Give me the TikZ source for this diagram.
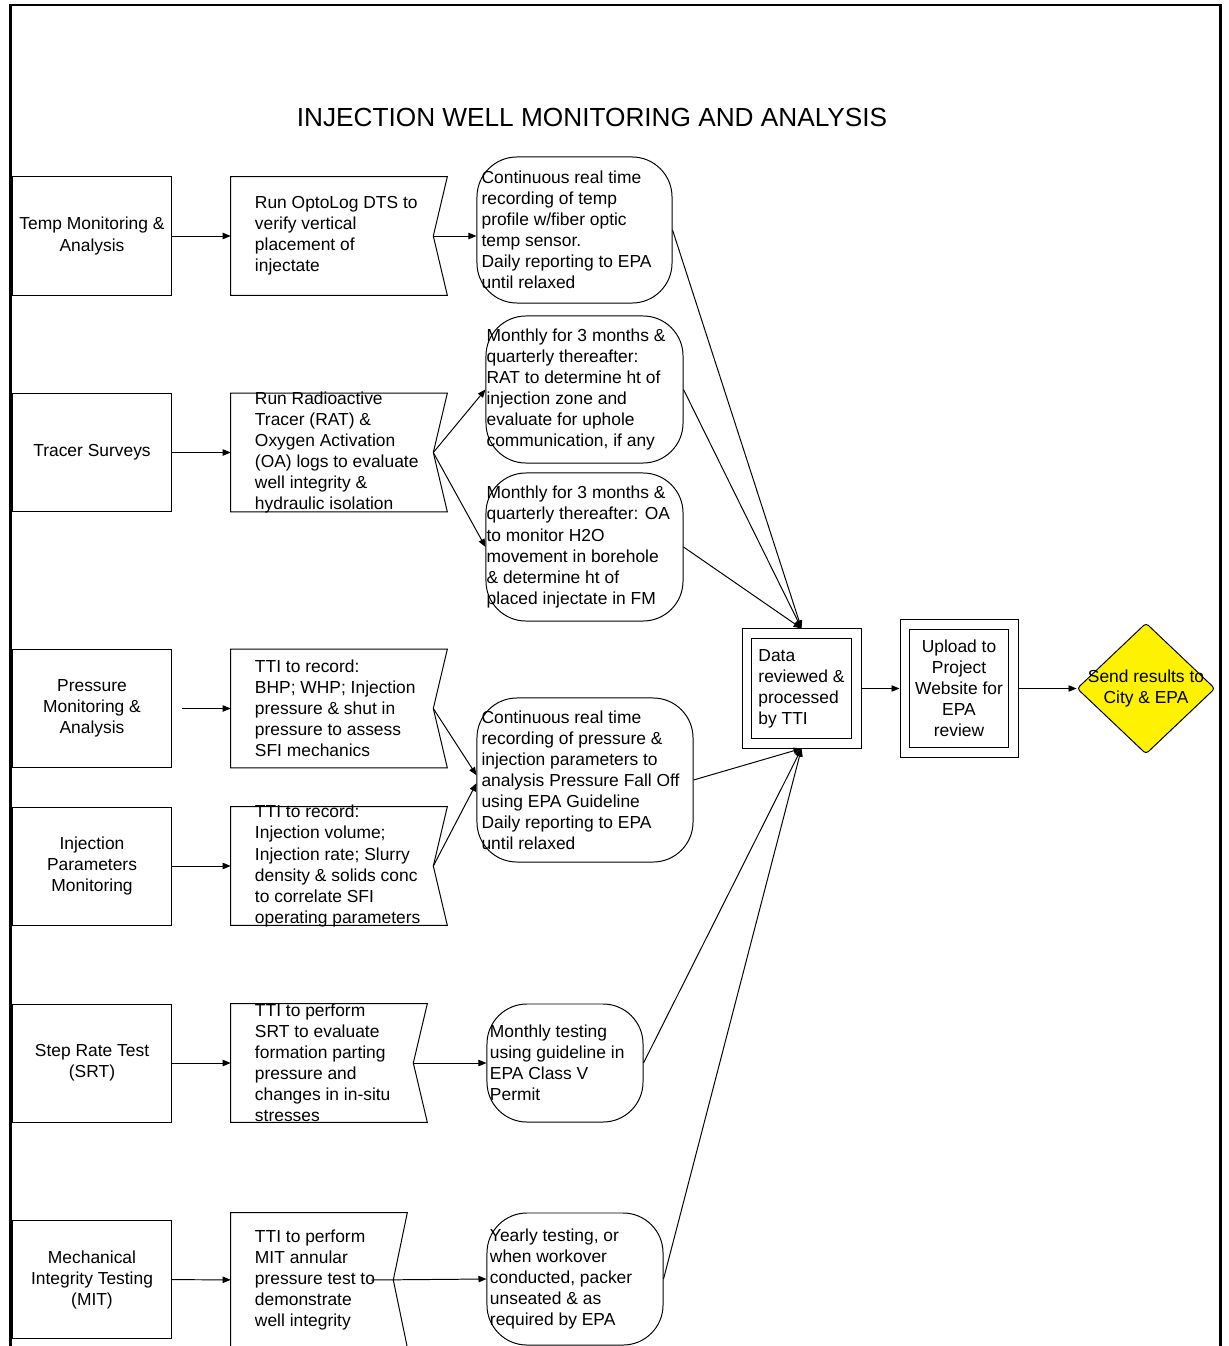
\documentclass[tikz,border=0pt]{standalone}
\usepackage{fontspec}
\setmainfont{Liberation Sans}
\usetikzlibrary{arrows.meta,shapes.geometric}

% notched right side of a process box
\newcommand{\flagline}[1]{%
  \coordinate (#1n) at ([xshift=-0.35cm]#1.east);
  \draw[outline] (#1.north west) -- (#1.north east) -- (#1n)
    -- (#1.south east) -- (#1.south west) -- cycle;}
% second frame inside a box
\newcommand{\innerline}[1]{%
  \draw[outline] ([shift={(0.25cm,-0.25cm)}]#1.north west) rectangle ([shift={(-0.25cm,0.25cm)}]#1.south east);}

\begin{document}
\begin{tikzpicture}[x=0.025cm, y=-0.025cm,
    font=\fontsize{12.38}{14.94}\selectfont,
    outline/.style={draw, line width=0.7pt},
    srcbox/.style={outline, minimum width=3.95cm, minimum height=2.95cm, align=center, inner sep=0pt},
    flagbox/.style={minimum width=5.4cm, minimum height=2.95cm, inner sep=0pt},
    boxtext/.style={anchor=west, align=left, inner sep=0pt},
    roundbox/.style={outline, rounded corners=1cm, inner sep=0pt},
    dblbox/.style={outline, inner sep=0pt},
    decide/.style={diamond, outline, fill=yellow, rounded corners=0.08cm, minimum width=3.45cm, minimum height=3.275cm, inner sep=0pt},
    arr/.style={line width=0.7pt, -{Triangle[length=0.2cm, width=0.16cm]}}
]
    \useasboundingbox (0,0) rectangle (1228,1346);
    \draw[line width=2.1pt] (10.5,1360) |- (1220.5,5) -- (1220.5,1360);

    \node[font=\fontsize{18.64}{22}\selectfont, anchor=base] (title) at (592,126.7) {INJECTION WELL MONITORING AND ANALYSIS};

    % monitoring tasks
    \node[srcbox] (temp) at (92,236) {Temp Monitoring \&\\Analysis};
    \node[srcbox] (tracer) at (92,452.5) {Tracer Surveys};
    \node[srcbox] (press) at (92,708.5) {Pressure\\Monitoring \&\\Analysis};
    \node[srcbox] (inj) at (92,866) {Injection\\Parameters\\Monitoring};
    \node[srcbox] (srt) at (92,1063) {Step Rate Test\\(SRT)};
    \node[srcbox] (mit) at (92,1279.5) {Mechanical\\Integrity Testing\\(MIT)};

    % what is run
    \node[flagbox] (dts) at (339,236) {};
    \node[flagbox] (rat) at (339,452.5) {};
    \node[flagbox] (tti1) at (339,708.5) {};
    \node[flagbox] (tti2) at (339,866) {};
    \node[flagbox, minimum width=4.9cm] (srtrun) at (329,1063) {};
    \node[flagbox, minimum width=4.4cm, minimum height=3.35cm] (mitrun) at (319,1280) {};
    \flagline{dts}
    \flagline{rat}
    \flagline{tti1}
    \flagline{tti2}
    \flagline{srtrun}
    \flagline{mitrun}
    \node[boxtext] (dtstext) at ([xshift=0.6cm]dts.west) {Run OptoLog DTS to\\verify vertical\\placement of\\injectate};
    \node[boxtext] (rattext) at ([xshift=0.6cm]rat.west) {Run Radioactive\\Tracer (RAT) \&\\Oxygen Activation\\(OA) logs to evaluate\\well integrity \&\\hydraulic isolation};
    \node[boxtext] (tti1text) at ([xshift=0.6cm]tti1.west) {TTI to record:\\BHP; WHP; Injection\\pressure \& shut in\\pressure to assess\\SFI mechanics};
    \node[boxtext] (tti2text) at ([xshift=0.6cm]tti2.west) {TTI to record:\\Injection volume;\\Injection rate; Slurry\\density \& solids conc\\to correlate SFI\\operating parameters};
    \node[boxtext] (srtruntext) at ([xshift=0.6cm]srtrun.west) {TTI to perform\\SRT to evaluate\\formation parting\\pressure and\\changes in in-situ\\stresses};
    \node[boxtext] (mitruntext) at ([xshift=0.6cm]mitrun.west) {TTI to perform\\MIT annular\\pressure test to\\demonstrate\\well integrity};

    % recording and reporting
    \node[roundbox, minimum width=4.875cm, minimum height=3.65cm] (cont1) at (574.5,230) {};
    \node[roundbox, minimum width=4.925cm, minimum height=3.675cm] (mon1) at (584.5,389.5) {};
    \node[roundbox, minimum width=4.925cm, minimum height=3.7cm] (mon2) at (584.5,547) {};
    \node[roundbox, minimum width=5.4cm, minimum height=4.1cm] (cont2) at (585,780) {};
    \node[roundbox, minimum width=3.9cm, minimum height=2.95cm] (monthly) at (565,1063) {};
    \node[roundbox, minimum width=4.4cm, minimum height=3.3cm] (yearly) at (575,1279) {};
    \node[boxtext] (cont1text) at ([xshift=0.12cm]cont1.west) {Continuous real time\\recording of temp\\profile w/fiber optic\\temp sensor.\\Daily reporting to EPA\\until relaxed};
    \node[boxtext] (mon1text) at ([xshift=0.02cm]mon1.west) {Monthly for 3 months \&\\quarterly thereafter:\\RAT to determine ht of\\injection zone and\\evaluate for uphole\\communication, if any};
    \node[boxtext] (mon2text) at ([xshift=0.02cm]mon2.west) {Monthly for 3 months \&\\quarterly thereafter: OA\\to monitor H2O\\movement in borehole\\\& determine ht of\\placed injectate in FM};
    \node[boxtext] (cont2text) at ([xshift=0.12cm]cont2.west) {Continuous real time\\recording of pressure \&\\injection parameters to\\analysis Pressure Fall Off\\using EPA Guideline\\Daily reporting to EPA\\until relaxed};
    \node[boxtext] (monthlytext) at ([xshift=0.08cm]monthly.west) {Monthly testing\\using guideline in\\EPA Class V\\Permit};
    \node[boxtext] (yearlytext) at ([xshift=0.08cm]yearly.west) {Yearly testing, or\\when workover\\conducted, packer\\unseated \& as\\required by EPA};

    % review and release
    \node[dblbox, align=left, minimum size=2.975cm] (data) at (801.5,688.5) {Data\\reviewed \&\\processed\\by TTI};
    \node[dblbox, align=center, minimum width=2.95cm, minimum height=3.425cm] (upload) at (959,688.5) {Upload to\\Project\\Website for\\EPA\\review};
    \innerline{data}
    \innerline{upload}
    \node[decide] (send) at (1146,688.5) {};
    \node[align=center, inner sep=0pt] (sendtext) at (send) {Send results to\\City \& EPA};

    \draw[arr] (temp) -- (dts);
    \draw[arr] (dtsn) -- (dtsn -| cont1.west);
    \draw[arr] (tracer) -- (rat);
    \draw[arr] (ratn) -- (mon1.west);
    \draw[arr] (ratn) -- (mon2.west);
    \draw[arr, shorten <=0.25cm] (press) -- (tti1);
    \draw[arr] (inj) -- (tti2);
    \draw[arr] (tti1n) -- ([yshift=0.12cm]cont2.west);
    \draw[arr] (tti2n) -- ([yshift=-0.08cm]cont2.west);
    \draw[arr] (srt) -- (srtrun);
    \draw[arr] (srtrunn) -- (monthly.west);
    \draw[arr] (mit) -- (mitrun);
    \draw[arr] ([xshift=-0.55cm]mitrunn) -- (yearly.west);
    \foreach \r in {cont1,mon1,mon2} \draw[arr] (\r.east) -- (data.north);
    \foreach \r in {cont2,monthly,yearly} \draw[arr] (\r.east) -- (data.south);
    \draw[arr] (data) -- (upload);
    \draw[arr] (upload) -- (send);
\end{tikzpicture}
\end{document}
